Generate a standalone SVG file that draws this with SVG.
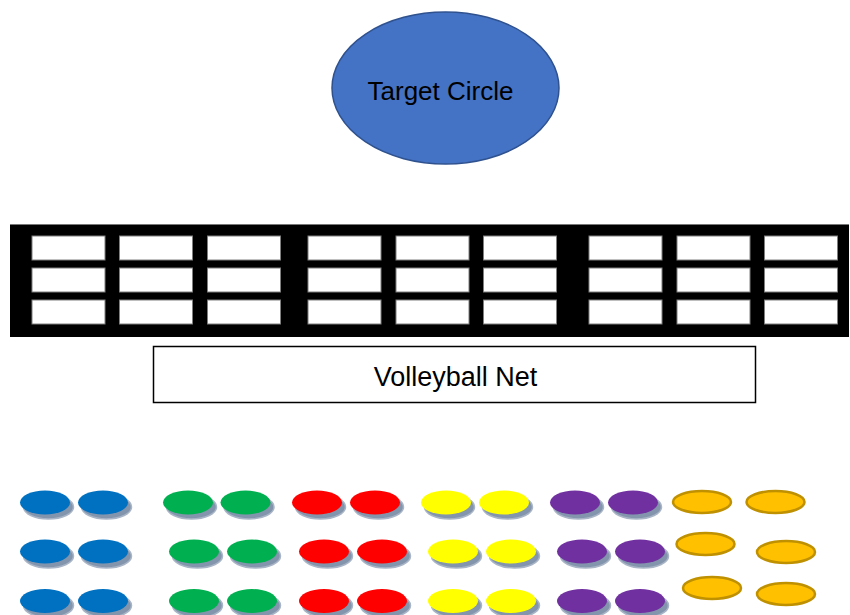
<svg xmlns="http://www.w3.org/2000/svg" width="850" height="615" viewBox="0 0 850 615">
<style>
.lbl{font-family:"Liberation Sans",Arial,sans-serif;fill:#000;text-anchor:middle}
.panel{fill:#000}
.cell{fill:#fff;stroke:#7f7f7f;stroke-width:1}
.orange{fill:#FFC000;stroke:#BF9000;stroke-width:2.5}
.shd{fill:#8395AD;stroke:#A9B5C6;stroke-width:1.5}
</style>
<rect width="850" height="615" fill="#fff"/>
<g id="target-circle">
<ellipse cx="445.5" cy="88" rx="113.5" ry="76" fill="#4472C4" stroke="#2F528F" stroke-width="1.5"/>
<text class="lbl" x="440.5" y="100" font-size="26">Target Circle</text>
</g>
<g id="net">
<rect class="panel" x="10" y="224" width="279" height="113"/>
<rect class="panel" x="288" y="224" width="282" height="113"/>
<rect class="panel" x="569" y="224" width="280" height="113"/>
<line x1="10" y1="224.5" x2="849" y2="224.5" stroke="#777" stroke-width="1"/>
<g>
<rect class="cell" x="32" y="236" width="73" height="24"/>
<rect class="cell" x="119.5" y="236" width="73" height="24"/>
<rect class="cell" x="207.5" y="236" width="73" height="24"/>
<rect class="cell" x="32" y="268" width="73" height="24"/>
<rect class="cell" x="119.5" y="268" width="73" height="24"/>
<rect class="cell" x="207.5" y="268" width="73" height="24"/>
<rect class="cell" x="32" y="300" width="73" height="24"/>
<rect class="cell" x="119.5" y="300" width="73" height="24"/>
<rect class="cell" x="207.5" y="300" width="73" height="24"/>
</g>
<g>
<rect class="cell" x="308" y="236" width="73" height="24"/>
<rect class="cell" x="396" y="236" width="73" height="24"/>
<rect class="cell" x="483.5" y="236" width="73" height="24"/>
<rect class="cell" x="308" y="268" width="73" height="24"/>
<rect class="cell" x="396" y="268" width="73" height="24"/>
<rect class="cell" x="483.5" y="268" width="73" height="24"/>
<rect class="cell" x="308" y="300" width="73" height="24"/>
<rect class="cell" x="396" y="300" width="73" height="24"/>
<rect class="cell" x="483.5" y="300" width="73" height="24"/>
</g>
<g>
<rect class="cell" x="589" y="236" width="73" height="24"/>
<rect class="cell" x="677" y="236" width="73" height="24"/>
<rect class="cell" x="764.5" y="236" width="73" height="24"/>
<rect class="cell" x="589" y="268" width="73" height="24"/>
<rect class="cell" x="677" y="268" width="73" height="24"/>
<rect class="cell" x="764.5" y="268" width="73" height="24"/>
<rect class="cell" x="589" y="300" width="73" height="24"/>
<rect class="cell" x="677" y="300" width="73" height="24"/>
<rect class="cell" x="764.5" y="300" width="73" height="24"/>
</g>
</g>
<g id="volleyball-net-label">
<rect x="153.5" y="346.5" width="602" height="56" fill="#fff" stroke="#000" stroke-width="1.5"/>
<text class="lbl" x="455.5" y="386" font-size="27">Volleyball Net</text>
</g>
<g id="spot-shadows" class="shd">
<ellipse cx="48.5" cy="507" rx="25" ry="12"/><ellipse cx="106.5" cy="507" rx="25" ry="12"/>
<ellipse cx="48.5" cy="556" rx="25" ry="12"/><ellipse cx="106.5" cy="556" rx="25" ry="12"/>
<ellipse cx="48.5" cy="605.5" rx="25" ry="12"/><ellipse cx="106.5" cy="605.5" rx="25" ry="12"/>
<ellipse cx="191.5" cy="507" rx="25" ry="12"/><ellipse cx="249" cy="507" rx="25" ry="12"/>
<ellipse cx="197.5" cy="556" rx="25" ry="12"/><ellipse cx="255.5" cy="556" rx="25" ry="12"/>
<ellipse cx="197.5" cy="605.5" rx="25" ry="12"/><ellipse cx="255.5" cy="605.5" rx="25" ry="12"/>
<ellipse cx="320.5" cy="507" rx="25" ry="12"/><ellipse cx="378.5" cy="507" rx="25" ry="12"/>
<ellipse cx="327.5" cy="556" rx="25" ry="12"/><ellipse cx="385.5" cy="556" rx="25" ry="12"/>
<ellipse cx="327.5" cy="605.5" rx="25" ry="12"/><ellipse cx="385.5" cy="605.5" rx="25" ry="12"/>
<ellipse cx="449.5" cy="507" rx="25" ry="12"/><ellipse cx="507.5" cy="507" rx="25" ry="12"/>
<ellipse cx="456.5" cy="556" rx="25" ry="12"/><ellipse cx="514.5" cy="556" rx="25" ry="12"/>
<ellipse cx="456.5" cy="605.5" rx="25" ry="12"/><ellipse cx="514.5" cy="605.5" rx="25" ry="12"/>
<ellipse cx="578.5" cy="507" rx="25" ry="12"/><ellipse cx="636.5" cy="507" rx="25" ry="12"/>
<ellipse cx="585.5" cy="556" rx="25" ry="12"/><ellipse cx="643.5" cy="556" rx="25" ry="12"/>
<ellipse cx="585.5" cy="605.5" rx="25" ry="12"/><ellipse cx="643.5" cy="605.5" rx="25" ry="12"/>
</g>
<g id="blue-spots" fill="#0070C0">
<ellipse cx="45" cy="502.5" rx="25" ry="12"/><ellipse cx="103" cy="502.5" rx="25" ry="12"/>
<ellipse cx="45" cy="551.5" rx="25" ry="12"/><ellipse cx="103" cy="551.5" rx="25" ry="12"/>
<ellipse cx="45" cy="601" rx="25" ry="12"/><ellipse cx="103" cy="601" rx="25" ry="12"/>
</g>
<g id="green-spots" fill="#00B050">
<ellipse cx="188" cy="502.5" rx="25" ry="12"/><ellipse cx="245.5" cy="502.5" rx="25" ry="12"/>
<ellipse cx="194" cy="551.5" rx="25" ry="12"/><ellipse cx="252" cy="551.5" rx="25" ry="12"/>
<ellipse cx="194" cy="601" rx="25" ry="12"/><ellipse cx="252" cy="601" rx="25" ry="12"/>
</g>
<g id="red-spots" fill="#FF0000">
<ellipse cx="317" cy="502.5" rx="25" ry="12"/><ellipse cx="375" cy="502.5" rx="25" ry="12"/>
<ellipse cx="324" cy="551.5" rx="25" ry="12"/><ellipse cx="382" cy="551.5" rx="25" ry="12"/>
<ellipse cx="324" cy="601" rx="25" ry="12"/><ellipse cx="382" cy="601" rx="25" ry="12"/>
</g>
<g id="yellow-spots" fill="#FFFF00">
<ellipse cx="446" cy="502.5" rx="25" ry="12"/><ellipse cx="504" cy="502.5" rx="25" ry="12"/>
<ellipse cx="453" cy="551.5" rx="25" ry="12"/><ellipse cx="511" cy="551.5" rx="25" ry="12"/>
<ellipse cx="453" cy="601" rx="25" ry="12"/><ellipse cx="511" cy="601" rx="25" ry="12"/>
</g>
<g id="purple-spots" fill="#7030A0">
<ellipse cx="575" cy="502.5" rx="25" ry="12"/><ellipse cx="633" cy="502.5" rx="25" ry="12"/>
<ellipse cx="582" cy="551.5" rx="25" ry="12"/><ellipse cx="640" cy="551.5" rx="25" ry="12"/>
<ellipse cx="582" cy="601" rx="25" ry="12"/><ellipse cx="640" cy="601" rx="25" ry="12"/>
</g>
<g id="orange-spots">
<ellipse class="orange" cx="702" cy="502" rx="29" ry="11"/>
<ellipse class="orange" cx="775.5" cy="502" rx="29" ry="11"/>
<ellipse class="orange" cx="705.5" cy="544" rx="29" ry="11"/>
<ellipse class="orange" cx="786" cy="552" rx="29" ry="11"/>
<ellipse class="orange" cx="712" cy="588" rx="29" ry="11"/>
<ellipse class="orange" cx="786" cy="594" rx="29" ry="11"/>
</g>
<g id="connectors"/>
</svg>
